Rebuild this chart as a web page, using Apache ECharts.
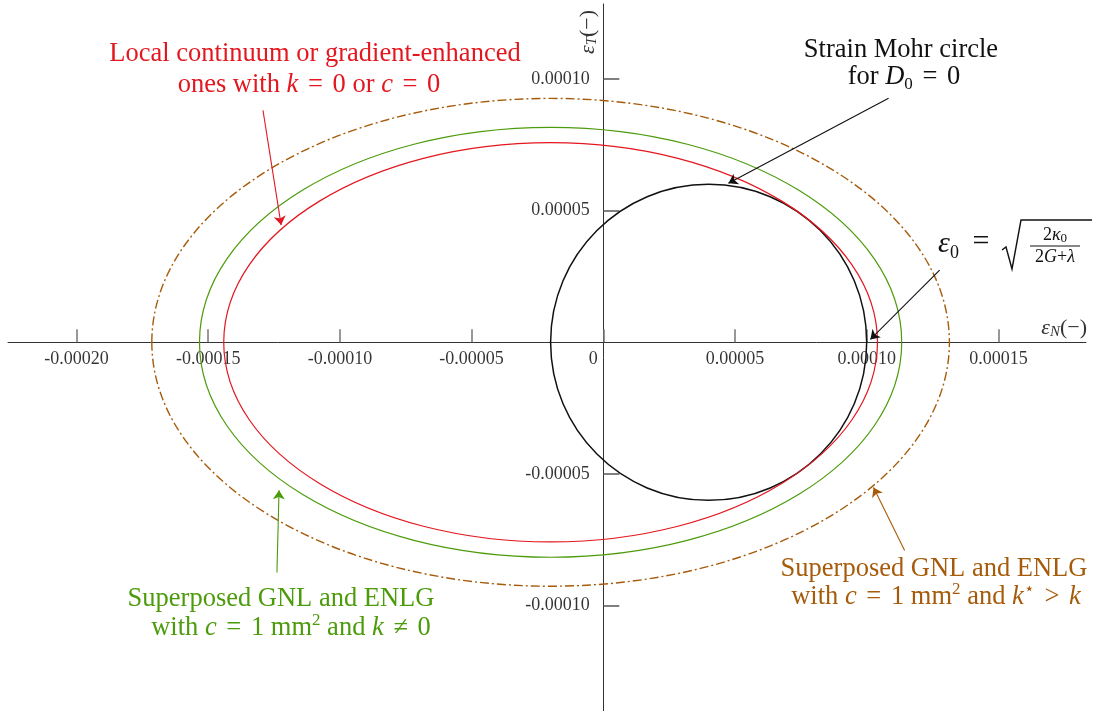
<!DOCTYPE html>
<html>
<head>
<meta charset="utf-8">
<script src="https://cdn.jsdelivr.net/npm/echarts@6/dist/echarts.min.js"></script>
<style>
  html, body { margin: 0; padding: 0; background: #fff; }
  #chart { width: 1094px; height: 711px; }
</style>
</head>
<body>
<div id="chart"></div>
<script>
// 刻度
const xTicks = [-0.0002, -0.00015, -0.0001, -0.00005, 0, 0.00005, 0.0001, 0.00015];
const yTicks = [-0.0001, -0.00005, 0.00005, 0.0001];

// 圆 / 椭圆：中心和半轴
const shapeNames = ['mohr', 'local', 'gnlEnlg', 'kStar'];
const centerX = [0.00004, -0.00002, -0.00002, -0.00002];
const centerY = [0, 0, 0, 0];
const radiusX = [0.00006, 0.0001241, 0.0001333, 0.0001514];
const radiusY = [0.00006, 0.0000758, 0.0000816, 0.0000926];

// 箭头（起点 -> 终点）
const arrowNames = ['local', 'mohr', 'eps0', 'gnlEnlg', 'kStar'];
const arrowFrom = [[-0.0001292, 0.0000881], [0.0001083, 0.0000927], [0.0001277, 0.0000274], [-0.0001239, -0.0000874], [0.0001144, -0.000079]];
const arrowTo = [[-0.0001223, 0.0000445], [0.0000475, 0.0000604], [0.0001014, 0.0000011], [-0.0001231, -0.0000562], [0.0001026, -0.0000551]];

const RED = '#e3171f';
const GREEN = '#4c9b0b';
const BROWN = '#a65b0b';
const BLACK = '#111';
const SERIF = "'Liberation Serif', 'DejaVu Serif', serif";
const FS = 26.5;

const shapeStyle = {
    mohr: { stroke: BLACK, lineWidth: 1.5 },
    local: { stroke: RED, lineWidth: 1.2 },
    gnlEnlg: { stroke: GREEN, lineWidth: 1.2 },
    kStar: { stroke: BROWN, lineWidth: 1.4, lineDash: [9, 3, 2, 3] }
};
const arrowColor = { local: RED, mohr: BLACK, eps0: BLACK, gnlEnlg: GREEN, kStar: BROWN };

const chart = echarts.init(document.getElementById('chart'));

const shapeSeries = shapeNames.map((name, i) => ({
    type: 'custom',
    name: name,
    coordinateSystem: 'cartesian2d',
    silent: true,
    clip: false,
    data: [[centerX[i], centerY[i], radiusX[i], radiusY[i]]],
    renderItem: (params, api) => {
        const c = api.coord([api.value(0), api.value(1)]);
        const s = api.size([api.value(2), api.value(3)]);
        return {
            type: 'ellipse',
            shape: { cx: c[0], cy: c[1], rx: s[0], ry: s[1] },
            style: Object.assign({ fill: 'none' }, shapeStyle[name])
        };
    }
}));

// 刻度标签：用透明散点的 label 画在轴上
const tickLabelStyle = { color: '#000', fontFamily: SERIF, fontSize: 18 };
const xLabelSeries = {
    type: 'scatter', silent: true, symbolSize: 1, z: 1,
    itemStyle: { color: 'transparent' },
    label: Object.assign({ show: true, position: 'bottom', distance: 7,
        formatter: p => Math.abs(p.value[0]) < 1e-12 ? '0' : p.value[0].toFixed(5) }, tickLabelStyle),
    data: xTicks.map(v => Math.abs(v) < 1e-12 ? { value: [v, 0], label: { offset: [-10, 0] } } : [v, 0])
};
const yLabelSeries = {
    type: 'scatter', silent: true, symbolSize: 1, z: 1,
    itemStyle: { color: 'transparent' },
    label: Object.assign({ show: true, position: 'left', distance: 13,
        formatter: p => p.value[1].toFixed(5) }, tickLabelStyle),
    data: yTicks.map(v => [0, v])
};

// 富文本样式
function richFor(color) {
    return {
        i: { fontFamily: SERIF, fontSize: FS, fontStyle: 'italic', color: color, lineHeight: 32 },
        eq: { fontFamily: SERIF, fontSize: FS, color: color, lineHeight: 32, padding: [0, 3, 0, 3] },
        sub: { fontFamily: SERIF, fontSize: 17, color: color, lineHeight: 14, verticalAlign: 'bottom' },
        sup: { fontFamily: SERIF, fontSize: 17, color: color, lineHeight: 18, verticalAlign: 'top' }
    };
}
function txt(x, y, text, color, align) {
    return {
        type: 'text', x: x, y: y, silent: true,
        style: {
            text: text, fill: color, align: align || 'center', verticalAlign: 'middle',
            font: FS + 'px ' + SERIF, rich: richFor(color)
        }
    };
}

const axisNameRich = {
    e: { fontFamily: SERIF, fontSize: 22, fontStyle: 'italic', lineHeight: 24 },
    s: { fontFamily: SERIF, fontSize: 15, fontStyle: 'italic', lineHeight: 13, verticalAlign: 'bottom' }
};

const graphics = [
    txt(315, 54, 'Local continuum or gradient-enhanced', RED),
    txt(309, 85, 'ones with {i|k} {eq|=} 0 or {i|c} {eq|=} 0', RED),
    txt(901, 50, 'Strain Mohr circle', BLACK),
    txt(904, 77, 'for {i|D}{sub|0} {eq|=} 0', BLACK),
    txt(281, 599, 'Superposed GNL and ENLG', GREEN),
    txt(291, 628, 'with {i|c} {eq|=} 1 mm{sup|2} and {i|k} {eq|≠} 0', GREEN),
    txt(934, 569, 'Superposed GNL and ENLG', BROWN),
    txt(936, 597, 'with {i|c} {eq|=} 1 mm{sup|2} and {i|k}{sup|⋆} {eq|>} {i|k}', BROWN),
    // ε0 = sqrt(2κ0 / (2G+λ))
    { type: 'text', x: 944, y: 244, silent: true,
      style: { text: 'ε', fill: BLACK, align: 'center', verticalAlign: 'middle', font: 'italic 30px ' + SERIF } },
    { type: 'text', x: 954.5, y: 253, silent: true,
      style: { text: '0', fill: BLACK, align: 'center', verticalAlign: 'middle', font: '18px ' + SERIF } },
    { type: 'text', x: 981, y: 242, silent: true,
      style: { text: '=', fill: BLACK, align: 'center', verticalAlign: 'middle', font: '30px ' + SERIF } },
    { type: 'polyline', silent: true,
      shape: { points: [[1002, 250], [1006, 247], [1012, 269], [1021, 220], [1092, 220]] },
      style: { stroke: BLACK, lineWidth: 1.4, fill: 'none' } },
    { type: 'text', x: 1055, y: 235, silent: true,
      style: { text: '2{i|κ}{s|0}', fill: BLACK, align: 'center', verticalAlign: 'middle', font: '18px ' + SERIF,
               rich: { i: { fontFamily: SERIF, fontSize: 18, fontStyle: 'italic', lineHeight: 20 },
                       s: { fontFamily: SERIF, fontSize: 13, lineHeight: 10, verticalAlign: 'bottom' } } } },
    { type: 'line', silent: true, shape: { x1: 1030, y1: 246, x2: 1080, y2: 246 },
      style: { stroke: BLACK, lineWidth: 1 } },
    { type: 'text', x: 1055, y: 257, silent: true,
      style: { text: '2{i|G}+{i|λ}', fill: BLACK, align: 'center', verticalAlign: 'middle', font: '18px ' + SERIF,
               rich: { i: { fontFamily: SERIF, fontSize: 18, fontStyle: 'italic' } } } },
    // 坐标轴名称
    { type: 'text', x: 1087, y: 328, silent: true,
      style: { text: '{e|ε}{s|N}(−)', fill: '#333', align: 'right', verticalAlign: 'middle', font: '22px ' + SERIF,
               rich: axisNameRich } },
    { type: 'text', x: 588, y: 32, rotation: Math.PI / 2, silent: true,
      style: { text: '{e|ε}{s|T}(−)', fill: '#333', align: 'center', verticalAlign: 'middle', font: '22px ' + SERIF,
               rich: axisNameRich } }
];

const option = {
    animation: false,
    backgroundColor: '#fff',
    grid: { left: 8, right: 8, top: 4, bottom: 0, containLabel: false, outerBoundsMode: 'none' },
    xAxis: {
        type: 'value',
        min: -0.000226, max: 0.00018326,
        axisLine: { onZero: true, lineStyle: { color: '#333', width: 1 } },
        axisTick: { show: true, inside: true, length: 13, customValues: xTicks, lineStyle: { color: '#777', width: 1.5 } },
        axisLabel: { show: false },
        splitLine: { show: false }
    },
    yAxis: {
        type: 'value',
        min: -0.00013997, max: 0.00012844,
        axisLine: { onZero: true, lineStyle: { color: '#333', width: 1 } },
        axisTick: { show: true, inside: true, length: 16, customValues: yTicks, lineStyle: { color: '#555', width: 1.5 } },
        axisLabel: { show: false },
        splitLine: { show: false }
    },
    series: shapeSeries.concat([{
        type: 'lines',
        coordinateSystem: 'cartesian2d',
        silent: true,
        symbol: ['none', 'arrow'],
        symbolSize: 9,
        lineStyle: { width: 1.1, opacity: 1 },
        data: arrowNames.map((name, i) => ({
            coords: [arrowFrom[i], arrowTo[i]],
            lineStyle: { color: arrowColor[name] }
        }))
    }, xLabelSeries, yLabelSeries]),
    graphic: graphics
};

chart.setOption(option);
</script>
</body>
</html>
